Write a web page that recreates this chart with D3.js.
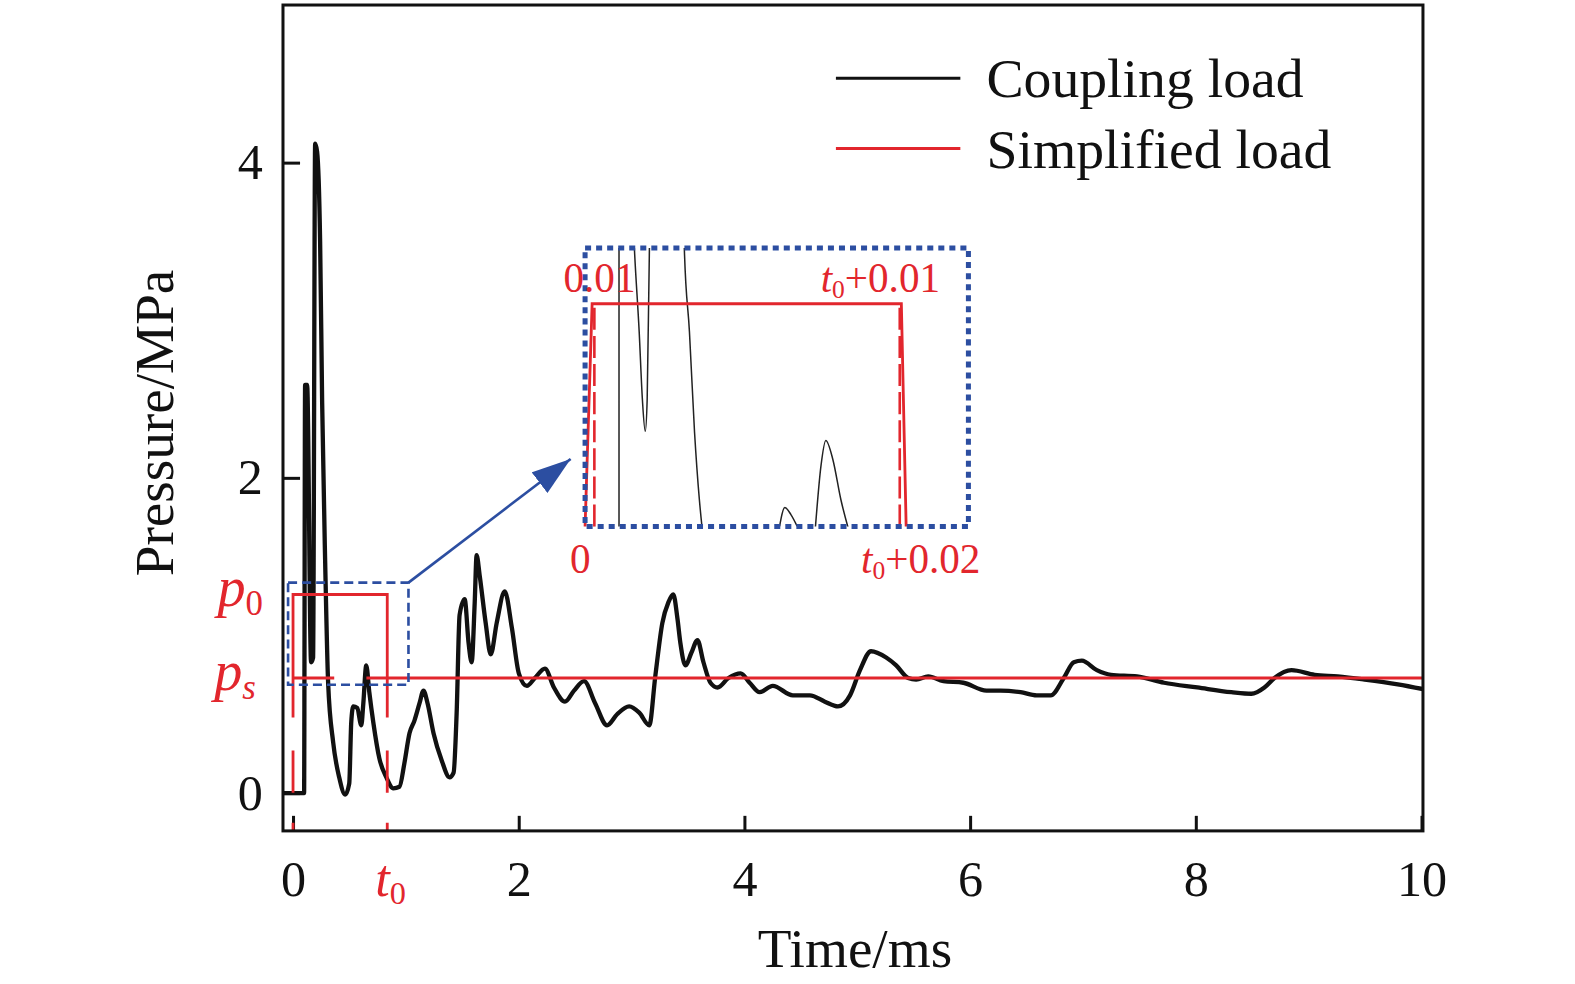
<!DOCTYPE html>
<html>
<head>
<meta charset="utf-8">
<script src="https://d3js.org/d3.v7.min.js"></script>
<style>
  html, body { margin: 0; padding: 0; background: #fff; overflow: hidden; }
  svg { display: block; }
  text { font-family: "Liberation Serif", "Times New Roman", serif; }
</style>
</head>
<body>
<div id="chart"></div>
<script>
// coupling load curve (time in ms, pressure in MPa)
var timeMs = [-0.089, 0.098, 0.107, 0.125, 0.160, 0.178, 0.196, 0.213, 0.240, 0.258,
  0.285, 0.311, 0.356, 0.409, 0.462, 0.498, 0.516, 0.534, 0.569, 0.605,
  0.623, 0.649, 0.676, 0.711, 0.765, 0.827, 0.889, 0.943, 0.987, 1.032,
  1.076, 1.121, 1.156, 1.192, 1.245, 1.316, 1.387, 1.423, 1.450, 1.476,
  1.521, 1.556, 1.583, 1.610, 1.627, 1.654, 1.707, 1.752, 1.805, 1.876,
  1.939, 2.001, 2.072, 2.143, 2.232, 2.312, 2.410, 2.490, 2.579, 2.677,
  2.783, 2.872, 2.979, 3.068, 3.157, 3.210, 3.273, 3.326, 3.370, 3.406,
  3.433, 3.477, 3.530, 3.584, 3.637, 3.699, 3.762, 3.859, 3.966, 4.046,
  4.135, 4.251, 4.429, 4.580, 4.713, 4.829, 4.936, 5.024, 5.122, 5.256,
  5.345, 5.451, 5.522, 5.629, 5.763, 5.940, 6.145, 6.269, 6.447, 6.590,
  6.714, 6.830, 6.919, 6.990, 7.123, 7.248, 7.479, 7.719, 8.013, 8.315,
  8.493, 8.608, 8.697, 8.848, 9.053, 9.257, 9.497, 9.790, 10.013];
var couplingMPa = [0, 0, 2.59, 2.59, 0.83, 0.86, 4.12, 4.07, 3.50, 2.48,
  1.46, 0.70, 0.32, 0.10, -0.01, 0.06, 0.45, 0.55, 0.54, 0.43,
  0.57, 0.81, 0.64, 0.45, 0.22, 0.10, 0.03, 0.04, 0.19, 0.38,
  0.46, 0.57, 0.65, 0.57, 0.38, 0.21, 0.10, 0.13, 0.51, 1.13,
  1.23, 0.95, 0.83, 1.21, 1.51, 1.38, 1.08, 0.88, 1.08, 1.28,
  1.05, 0.76, 0.68, 0.73, 0.79, 0.67, 0.58, 0.65, 0.71, 0.57,
  0.43, 0.50, 0.55, 0.51, 0.43, 0.74, 1.08, 1.21, 1.26, 1.11,
  0.95, 0.81, 0.89, 0.97, 0.83, 0.70, 0.67, 0.73, 0.76, 0.70,
  0.64, 0.68, 0.62, 0.62, 0.58, 0.55, 0.62, 0.78, 0.90, 0.86,
  0.81, 0.73, 0.72, 0.74, 0.71, 0.70, 0.65, 0.65, 0.64, 0.62,
  0.62, 0.73, 0.83, 0.84, 0.78, 0.75, 0.74, 0.70, 0.67, 0.64,
  0.63, 0.67, 0.73, 0.78, 0.75, 0.74, 0.72, 0.69, 0.66];

// simplified load
var t0 = 0.835, p0 = 1.26, ps = 0.73;
var guideV = 0.48;               // where the solid verticals turn into dashes
var redLoadT = [0, 0, t0, t0];
var redLoadV = [guideV, p0, p0, guideV];
var psSegments = [[0, 0.365], [0.65, 10.013]];

// small zoom box and the inset it points to (main axis units)
var zoomBoxT = [-0.044, 1.023], zoomBoxV = [0.687, 1.335];
var insetBoxT = [2.588, 5.985], insetBoxV = [1.691, 3.458];
var arrowTip = [2.46, 2.12];

// inset contents, in the inset's own 0..1 units
var insetRedT = [0, 0.022, 0.988, 1.003];
var insetRedV = [0, 0.8, 0.8, 0];
var insetGuideT = [0.029, 0.983];
var insetCurveT = [0.106, 0.106, null, 0.152, 0.154, 0.169, 0.179, 0.188, 0.194, 0.201, 0.202, null,
  0.309, 0.310, 0.326, 0.342, 0.357, 0.366, null, 0.606, 0.624, 0.643, 0.667, null,
  0.719, 0.737, 0.752, 0.774, 0.799, 0.823];
var insetCurveV = [-0.05, 1.05, null, 1.05, 1.0, 0.70, 0.457, 0.342, 0.457, 1.0, 1.05, null,
  1.05, 1.0, 0.70, 0.338, 0.097, -0.01, null, -0.01, 0.068, 0.043, -0.01, null,
  -0.01, 0.219, 0.309, 0.241, 0.097, -0.01];

var xTicks = [0, 2, 4, 6, 8, 10];
var yTicks = [0, 2, 4];

var red = "#e2262d", blue = "#2c4ea1";

// set the dimensions and margins of the graph
var margin = {top: 5, left: 282},
    width = 1136,
    height = 823;

var svg = d3.select("#chart").append("svg")
    .attr("width", 1575)
    .attr("height", 984);

// whole drawing is nudged up a touch to line up with the reference frame
var root = svg.append("g").attr("transform", "scale(1.0035)");
var g = root.append("g")
    .attr("transform", "translate(" + margin.left + "," + margin.top + ")");

var x = d3.scaleLinear().domain([-0.089, 10.013]).range([0, width]);
var y = d3.scaleLinear().domain([-0.24, 5]).range([height, 0]);

g.append("clipPath").attr("id", "plotclip")
  .append("rect").attr("width", width).attr("height", height);

// axes (ticks point inward)
var xAxis = g.append("g")
    .attr("transform", "translate(0," + height + ")")
    .call(d3.axisBottom(x).tickValues(xTicks).tickFormat(d3.format("d"))
      .tickSize(-15).tickSizeOuter(0).tickPadding(29));
var yAxis = g.append("g")
    .call(d3.axisLeft(y).tickValues(yTicks).tickFormat(d3.format("d"))
      .tickSize(-17).tickSizeOuter(0).tickPadding(20));
[xAxis, yAxis].forEach(function(a) {
  a.select(".domain").remove();
  a.selectAll(".tick line").attr("stroke", "#111").attr("stroke-width", 3);
  a.selectAll(".tick text").attr("font-size", 50).attr("fill", "#111")
    .style("font-family", '"Liberation Serif", "Times New Roman", serif');
});

// coupling load
var curve = timeMs.map(function(t, i) { return [t, couplingMPa[i]]; });
var line = d3.line()
    .x(function(d) { return x(d[0]); })
    .y(function(d) { return y(d[1]); })
    .curve(d3.curveMonotoneX);

g.append("path")
  .datum(curve)
  .attr("clip-path", "url(#plotclip)")
  .attr("fill", "none")
  .attr("stroke", "#111")
  .attr("stroke-width", 4.3)
  .attr("stroke-linejoin", "round")
  .attr("d", line);

// simplified load
var straight = d3.line().x(function(d) { return x(d[0]); }).y(function(d) { return y(d[1]); });
g.append("path")
  .datum(redLoadT.map(function(t, i) { return [t, redLoadV[i]]; }))
  .attr("fill", "none").attr("stroke", red).attr("stroke-width", 2.8)
  .attr("d", straight);
psSegments.forEach(function(s) {
  g.append("line")
    .attr("x1", x(s[0])).attr("x2", x(s[1]))
    .attr("y1", y(ps)).attr("y2", y(ps))
    .attr("stroke", red).attr("stroke-width", 2.8);
});
[0, t0].forEach(function(t) {
  g.append("line")
    .attr("x1", x(t)).attr("x2", x(t))
    .attr("y1", y(guideV)).attr("y2", y(-0.24))
    .attr("stroke", red).attr("stroke-width", 2.8)
    .attr("stroke-dasharray", "0,33,42,30,20");
});

// dashed zoom box
g.append("rect")
  .attr("x", x(zoomBoxT[0])).attr("y", y(zoomBoxV[1]))
  .attr("width", x(zoomBoxT[1]) - x(zoomBoxT[0]))
  .attr("height", y(zoomBoxV[0]) - y(zoomBoxV[1]))
  .attr("fill", "none").attr("stroke", blue).attr("stroke-width", 2.6)
  .attr("stroke-dasharray", "9,5");

// arrow
svg.append("defs").append("marker")
  .attr("id", "head").attr("viewBox", "0 0 15 10")
  .attr("refX", 15).attr("refY", 5)
  .attr("markerWidth", 15).attr("markerHeight", 10)
  .attr("markerUnits", "strokeWidth")
  .attr("orient", "auto")
  .append("path").attr("d", "M0,0 L15,5 L0,10 Z").attr("fill", blue);
g.append("line")
  .attr("x1", x(zoomBoxT[1])).attr("y1", y(zoomBoxV[1]))
  .attr("x2", x(arrowTip[0])).attr("y2", y(arrowTip[1]))
  .attr("stroke", blue).attr("stroke-width", 2.6)
  .attr("marker-end", "url(#head)");

// inset
var ix = d3.scaleLinear().domain([0, 1]).range([x(insetBoxT[0]), x(insetBoxT[0]) + 319]);
var iy = d3.scaleLinear().domain([0, 1]).range([y(insetBoxV[0]), y(insetBoxV[1])]);
var inset = g.append("g");
inset.append("clipPath").attr("id", "insetclip")
  .append("rect")
  .attr("x", x(insetBoxT[0])).attr("y", y(insetBoxV[1]))
  .attr("width", x(insetBoxT[1]) - x(insetBoxT[0]))
  .attr("height", y(insetBoxV[0]) - y(insetBoxV[1]));

var iline = d3.line()
    .defined(function(d) { return d[0] !== null; })
    .x(function(d) { return ix(d[0]); })
    .y(function(d) { return iy(d[1]); })
    .curve(d3.curveMonotoneX);
inset.append("path")
  .datum(insetCurveT.map(function(t, i) { return [t, insetCurveV[i]]; }))
  .attr("clip-path", "url(#insetclip)")
  .attr("fill", "none").attr("stroke", "#222").attr("stroke-width", 1.5)
  .attr("d", iline);

insetGuideT.forEach(function(t) {
  inset.append("line")
    .attr("x1", ix(t)).attr("x2", ix(t))
    .attr("y1", iy(0)).attr("y2", iy(0.8))
    .attr("stroke", red).attr("stroke-width", 2.6)
    .attr("stroke-dasharray", "22,6");
});
inset.append("path")
  .datum(insetRedT.map(function(t, i) { return [t, insetRedV[i]]; }))
  .attr("fill", "none").attr("stroke", red).attr("stroke-width", 2.8)
  .attr("d", d3.line().x(function(d) { return ix(d[0]); }).y(function(d) { return iy(d[1]); }));

inset.append("rect")
  .attr("x", x(insetBoxT[0])).attr("y", y(insetBoxV[1]))
  .attr("width", x(insetBoxT[1]) - x(insetBoxT[0]))
  .attr("height", y(insetBoxV[0]) - y(insetBoxV[1]))
  .attr("fill", "none").attr("stroke", blue).attr("stroke-width", 5)
  .attr("stroke-dasharray", "6,5");

// labels with an italic letter and a subscript
function subLabel(parent, px, py, main, sub, rest, size, anchor, subItalic) {
  var t = parent.append("text")
    .attr("x", px).attr("y", py)
    .attr("font-size", size).attr("fill", red)
    .attr("text-anchor", anchor || "start");
  t.append("tspan").attr("font-style", "italic").text(main);
  t.append("tspan").attr("font-size", size * 0.62).attr("dy", size * 0.16)
    .attr("font-style", subItalic ? "italic" : "normal").text(sub);
  if (rest) t.append("tspan").attr("dy", -size * 0.16).text(rest);
  return t;
}
inset.append("text").attr("x", ix(0.045)).attr("y", iy(0.8) - 12)
  .attr("text-anchor", "middle").attr("font-size", 41).attr("fill", red).text("0.01");
subLabel(inset, ix(0.736), iy(0.8) - 12, "t", "0", "+0.01", 41);
inset.append("text").attr("x", ix(-0.015)).attr("y", iy(0) + 46)
  .attr("text-anchor", "middle").attr("font-size", 41).attr("fill", red).text("0");
subLabel(inset, ix(0.862), iy(0) + 46, "t", "0", "+0.02", 41);

// red axis annotations
subLabel(g, -20, y(p0) + 11, "p", "0", null, 56, "end");
subLabel(g, -27, y(ps) + 12, "p", "s", null, 56, "end", true);
subLabel(g, x(t0) - 12, height + 65, "t", "0", null, 52);

// frame
g.append("rect")
  .attr("width", width).attr("height", height)
  .attr("fill", "none").attr("stroke", "#111").attr("stroke-width", 3);

// axis titles
g.append("text")
  .attr("x", width / 2 + 2).attr("y", height + 136)
  .attr("text-anchor", "middle").attr("font-size", 55).attr("fill", "#111")
  .text("Time/ms");
g.append("text")
  .attr("transform", "translate(-110," + (height / 2 + 5) + ") rotate(-90)")
  .attr("text-anchor", "middle").attr("font-size", 55).attr("fill", "#111")
  .text("Pressure/MPa");

// legend
var legend = [["Coupling load", "#111"], ["Simplified load", red]];
legend.forEach(function(d, i) {
  var ly = 73 + i * 70;
  g.append("line").attr("x1", 551).attr("x2", 675).attr("y1", ly).attr("y2", ly)
    .attr("stroke", d[1]).attr("stroke-width", 3);
  g.append("text").attr("x", 701).attr("y", ly + 19)
    .attr("font-size", 55.5).attr("fill", "#111").text(d[0]);
});
</script>
</body>
</html>
